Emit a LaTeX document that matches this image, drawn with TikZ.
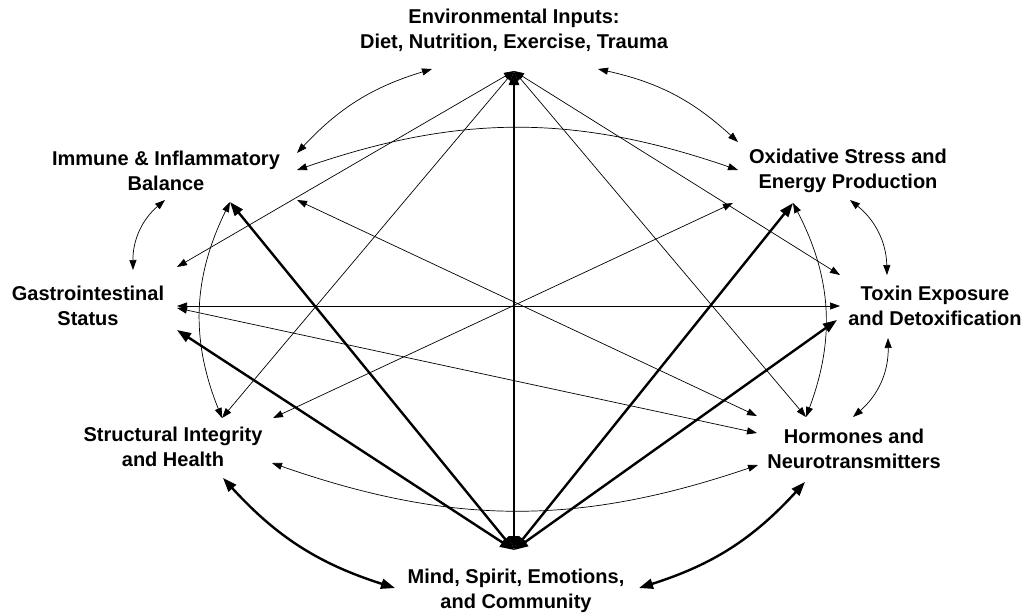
\documentclass[tikz,border=0pt]{standalone}
\usepackage{fontspec}
\setmainfont{Liberation Sans}
\usetikzlibrary{arrows.meta, calc}

\begin{document}
\begin{tikzpicture}[
      x=1pt, y=-1pt,
      lbl/.style={font=\bfseries\fontsize{20}{25}\selectfont, align=center, inner sep=0pt},
      thinlink/.style={{Triangle[length=10pt,width=7pt]}-{Triangle[length=10pt,width=7pt]}, line width=0.7pt},
      thicklink/.style={{Triangle[length=14pt,width=10pt]}-{Triangle[length=14pt,width=10pt]}, line width=2.4pt},
    ]
    \useasboundingbox (0,0) rectangle (1026,614);

    \node[lbl] (env)    at (514,30)  {Environmental Inputs:\\Diet, Nutrition, Exercise, Trauma};
    \node[lbl] (imm)    at (166,171) {Immune \& Inflammatory\\Balance};
    \node[lbl] (oxi)    at (848,171) {Oxidative Stress and\\Energy Production};
    \node[lbl] (gi)     at (88,306)  {Gastrointestinal\\Status};
    \node[lbl] (tox)    at (935,306) {Toxin Exposure\\and Detoxification};
    \node[lbl] (struct) at (173,447) {Structural Integrity\\and Health};
    \node[lbl] (horm)   at (854,449) {Hormones and\\Neurotransmitters};
    \node[lbl] (mind)   at (516,591) {Mind, Spirit, Emotions,\\and Community};

    % thin straight links
    \path[thinlink]
    ($(env)+(0,41)$)      edge ($(gi)+(89,-39)$)
    ($(env)+(0,41)$)      edge ($(struct)+(49,-29)$)
    ($(env)+(0,41)$)      edge ($(horm)+(-48,-32)$)
    ($(env)+(0,41)$)      edge ($(tox)+(-95,-31)$)
    ($(oxi)+(-115,32)$)   edge ($(struct)+(100,-29)$)
    ($(imm)+(131,29)$)    edge ($(horm)+(-97,-33)$)
    ($(gi)+(89,0)$)       edge ($(tox)+(-95,0)$)
    ($(gi)+(89,2)$)       edge ($(horm)+(-97,-16)$);

    % thin curved links round the ring
    \path[thinlink]
    ($(env)+(-82,39)$)    edge[bend right=15] ($(imm)+(131,-18)$)
    ($(env)+(84,39)$)     edge[bend left=15]  ($(oxi)+(-110,-29)$)
    ($(imm)+(131,-1)$)    edge[bend left=19]  ($(oxi)+(-110,-1)$)
    ($(imm)+(-1,29)$)     edge[bend right=25] ($(gi)+(45,-36)$)
    ($(oxi)+(2,29)$)      edge[bend left=25]  ($(tox)+(-48,-31)$)
    ($(tox)+(-47,32)$)    edge[bend left=25]  ($(horm)+(-1,-32)$)
    ($(imm)+(64,31)$)     edge[bend right=24] ($(struct)+(49,-29)$)
    ($(oxi)+(-55,32)$)    edge[bend left=24]  ($(horm)+(-48,-32)$)
    ($(struct)+(99,16)$)  edge[bend right=19] ($(horm)+(-96,16)$);

    % thick links from mind
    \path[thicklink]
    ($(mind)+(-2,-41)$)   edge ($(gi)+(89,24)$)
    ($(mind)+(-2,-41)$)   edge ($(imm)+(64,31)$)
    ($(mind)+(-2,-41)$)   edge ($(env)+(0,41)$)
    ($(mind)+(-2,-41)$)   edge ($(oxi)+(-55,32)$)
    ($(mind)+(-2,-41)$)   edge ($(tox)+(-98,14)$)
    ($(struct)+(50,31)$)  edge[bend right=15] ($(mind)+(-121,-3)$)
    ($(horm)+(-49,33)$)   edge[bend left=15]  ($(mind)+(123,-3)$);

  \end{tikzpicture}
\end{document}
